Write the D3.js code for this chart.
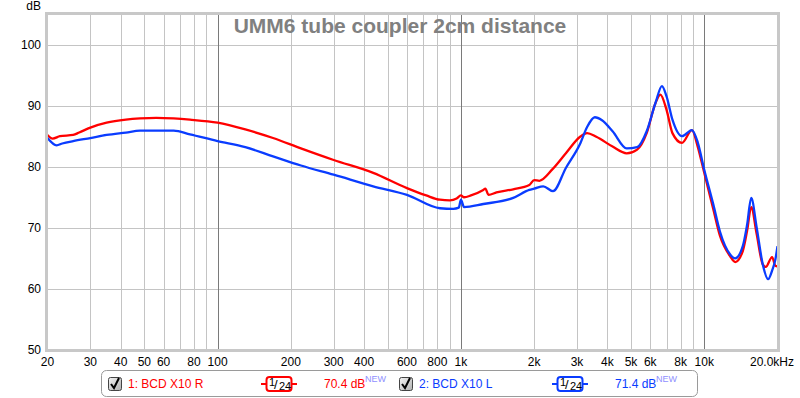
<!DOCTYPE html>
<html>
<head>
<meta charset="utf-8">
<script src="https://cdn.jsdelivr.net/npm/d3@7"></script>
<style>
  body { margin: 0; background: #fff; }
  svg { display: block; font-family: Arial, "Liberation Sans", sans-serif; }
</style>
</head>
<body>
<div id="chart"></div>
<script>
// series: 1: BCD X10 R (red)
var freqR = [20, 21, 22.5, 25.5, 27, 30, 35, 42, 48, 56, 66, 77, 100, 130, 169, 220, 300, 436, 600, 720, 820, 900, 960, 1000, 1030, 1100, 1236, 1260, 1300, 1400, 1640, 1910, 2000, 2100, 2380, 2700, 3090, 3300, 3600, 4200, 4800, 5300, 5800, 6300, 6600, 7000, 7400, 8100, 8900, 9400, 10000, 10900, 11600, 12800, 13400, 14400, 15000, 15600, 16400, 17400, 17900, 19000, 19600, 20000];
var dbR = [85.2, 84.6, 85.0, 85.2, 85.6, 86.4, 87.2, 87.7, 87.9, 88.0, 87.9, 87.7, 87.2, 86.1, 84.7, 83.0, 81.1, 79.0, 76.5, 75.3, 74.6, 74.5, 74.8, 75.3, 75.0, 75.3, 76.2, 76.4, 75.4, 75.8, 76.3, 77.0, 77.8, 77.7, 79.6, 82.2, 84.9, 85.5, 84.9, 83.3, 82.2, 82.8, 85.5, 90.4, 91.8, 89.3, 85.5, 83.9, 86.0, 83.3, 79.0, 73.0, 68.7, 65.3, 64.4, 66.2, 69.5, 73.4, 69.1, 64.0, 63.6, 65.2, 63.8, 63.7];

// series: 2: BCD X10 L (blue)
var freqL = [20, 21.8, 23, 25.5, 30, 35, 42, 48, 66, 77, 100, 130, 169, 220, 300, 436, 600, 820, 930, 980, 1000, 1030, 1236, 1640, 1910, 2000, 2180, 2390, 2700, 3100, 3300, 3550, 3800, 4200, 4800, 5300, 5800, 6300, 6700, 7000, 7400, 8100, 8900, 9400, 10000, 10900, 11600, 12800, 13400, 14400, 15000, 15600, 16400, 17400, 18300, 19000, 19600, 20000];
var dbL = [84.7, 83.5, 83.8, 84.2, 84.7, 85.2, 85.6, 85.9, 85.9, 85.3, 84.2, 83.2, 81.7, 80.2, 78.7, 76.8, 75.4, 73.2, 73.1, 73.3, 74.6, 73.4, 73.9, 74.9, 76.2, 76.4, 76.8, 76.0, 79.8, 83.9, 86.5, 88.1, 87.6, 85.8, 83.0, 83.2, 85.8, 90.4, 93.2, 91.5, 87.7, 85.0, 86.0, 84.0, 79.5, 73.8, 69.4, 65.6, 65.0, 67.0, 70.5, 74.9, 70.2, 64.0, 61.6, 63.0, 64.8, 67.0];

// axis ticks
var xTicks = [20, 30, 40, 50, 60, 80, 100, 200, 300, 400, 600, 800, 1000, 2000, 3000, 4000, 5000, 6000, 8000, 10000];
var xTickLabels = ["20", "30", "40", "50", "60", "80", "100", "200", "300", "400", "600", "800", "1k", "2k", "3k", "4k", "5k", "6k", "8k", "10k"];
var xGrid = [30, 40, 50, 60, 70, 80, 90, 200, 300, 400, 500, 600, 700, 800, 900, 2000, 3000, 4000, 5000, 6000, 7000, 8000, 9000];
var xDecades = [100, 1000, 10000];
var yTicks = [50, 60, 70, 80, 90, 100];

var legendItems = [
  { name: "1: BCD X10 R", level: "70.4 dB", color: "#ff0000" },
  { name: "2: BCD X10 L", level: "71.4 dB", color: "#0a3cff" }
];

var width = 800, height = 398;
var pLeft = 47.5, pRight = 777.5, pTop = 14, pBottom = 350;

var svg = d3.select("#chart").append("svg")
  .attr("width", width)
  .attr("height", height);

var x = d3.scaleLog().domain([20, 20000]).range([pLeft, pRight]);
var y = d3.scaleLinear().domain([50, 105]).range([pBottom, pTop]);

// grid
svg.append("g").selectAll("line").data(xGrid).enter().append("line")
  .attr("x1", function (d) { return Math.round(x(d)) + 0.5; })
  .attr("x2", function (d) { return Math.round(x(d)) + 0.5; })
  .attr("y1", pTop).attr("y2", pBottom)
  .attr("stroke", "#c4c4c4");

svg.append("g").selectAll("line").data(yTicks.slice(1)).enter().append("line")
  .attr("x1", pLeft).attr("x2", pRight)
  .attr("y1", function (d) { return Math.round(y(d)) + 0.5; })
  .attr("y2", function (d) { return Math.round(y(d)) + 0.5; })
  .attr("stroke", "#c4c4c4");

svg.append("g").selectAll("line").data(xDecades).enter().append("line")
  .attr("x1", function (d) { return Math.round(x(d)) + 0.5; })
  .attr("x2", function (d) { return Math.round(x(d)) + 0.5; })
  .attr("y1", pTop).attr("y2", pBottom)
  .attr("stroke", "#7a7a7a");

// title
svg.append("text")
  .attr("x", 400).attr("y", 33)
  .attr("text-anchor", "middle")
  .attr("font-size", 21)
  .attr("font-weight", "bold")
  .attr("fill", "#808080")
  .text("UMM6 tube coupler 2cm distance");

// curves
var line = d3.line()
  .x(function (d) { return x(d[0]); })
  .y(function (d) { return y(d[1]); })
  .curve(d3.curveMonotoneX);

svg.append("path")
  .attr("d", line(d3.zip(freqR, dbR)))
  .attr("fill", "none").attr("stroke", "#ff0000")
  .attr("stroke-width", 2.3).attr("stroke-linejoin", "round");
svg.append("path")
  .attr("d", line(d3.zip(freqL, dbL)))
  .attr("fill", "none").attr("stroke", "#0a3cff")
  .attr("stroke-width", 2.3).attr("stroke-linejoin", "round");

// frame
svg.append("rect")
  .attr("x", pLeft - 1).attr("y", pTop - 0.5)
  .attr("width", pRight - pLeft + 2).attr("height", pBottom - pTop + 1)
  .attr("fill", "none")
  .attr("stroke", "#c8c8c8")
  .attr("stroke-width", 3);

// x axis labels
svg.append("g").selectAll("text").data(xTicks).enter().append("text")
  .attr("x", function (d) { return x(d); })
  .attr("y", 366)
  .attr("text-anchor", "middle")
  .attr("font-size", 12)
  .attr("fill", "#000")
  .text(function (d, i) { return xTickLabels[i]; });

svg.append("text")
  .attr("x", 794).attr("y", 366)
  .attr("text-anchor", "end")
  .attr("font-size", 12)
  .text("20.0kHz");

// y axis labels
svg.append("g").selectAll("text").data(yTicks).enter().append("text")
  .attr("x", 41)
  .attr("y", function (d) { return y(d) + 4; })
  .attr("text-anchor", "end")
  .attr("font-size", 12)
  .text(function (d) { return d; });

svg.append("text")
  .attr("x", 41).attr("y", 10)
  .attr("text-anchor", "end")
  .attr("font-size", 12)
  .text("dB");

// legend
svg.append("rect")
  .attr("x", 101.5).attr("y", 370.5)
  .attr("width", 596).attr("height", 26)
  .attr("rx", 5)
  .attr("fill", "#fff")
  .attr("stroke", "#9a9a9a");

var grad = svg.append("defs").append("linearGradient")
  .attr("id", "cb").attr("x1", 0).attr("y1", 0).attr("x2", 1).attr("y2", 1);
grad.append("stop").attr("offset", "0%").attr("stop-color", "#f4f4f4");
grad.append("stop").attr("offset", "100%").attr("stop-color", "#b0b0b0");

var legX = [108, 399];
var legend = svg.append("g").selectAll("g").data(legendItems).enter().append("g")
  .attr("transform", function (d, i) { return "translate(" + legX[i] + ",0)"; });

legend.append("rect")
  .attr("x", 0.5).attr("y", 377.5)
  .attr("width", 13).attr("height", 13)
  .attr("rx", 2)
  .attr("fill", "url(#cb)")
  .attr("stroke", "#444");
legend.append("path")
  .attr("d", "M3,384 L6,388 L11,378")
  .attr("fill", "none")
  .attr("stroke", "#000")
  .attr("stroke-width", 2);

legend.append("text")
  .attr("x", 20).attr("y", 388)
  .attr("font-size", 12)
  .attr("fill", function (d) { return d.color; })
  .text(function (d) { return d.name; });

// smoothing icon
legend.append("line")
  .attr("x1", 153).attr("x2", 189)
  .attr("y1", 384).attr("y2", 384)
  .attr("stroke", function (d) { return d.color; })
  .attr("stroke-width", 2);
legend.append("rect")
  .attr("x", 158.5).attr("y", 377)
  .attr("width", 25).attr("height", 14)
  .attr("rx", 3)
  .attr("fill", "#fff")
  .attr("stroke", function (d) { return d.color; })
  .attr("stroke-width", 2);
legend.append("text")
  .attr("x", 161).attr("y", 386)
  .attr("font-size", 11)
  .text("1");
legend.append("text")
  .attr("x", 166).attr("y", 389)
  .attr("font-size", 13)
  .text("/");
legend.append("text")
  .attr("x", 171).attr("y", 390)
  .attr("font-size", 11)
  .text("24");

legend.append("text")
  .attr("x", 216).attr("y", 388)
  .attr("font-size", 12)
  .attr("fill", function (d) { return d.color; })
  .text(function (d) { return d.level; });
legend.append("text")
  .attr("x", 257).attr("y", 382)
  .attr("font-size", 9)
  .attr("fill", "#9090ff")
  .text("NEW");
</script>
</body>
</html>
